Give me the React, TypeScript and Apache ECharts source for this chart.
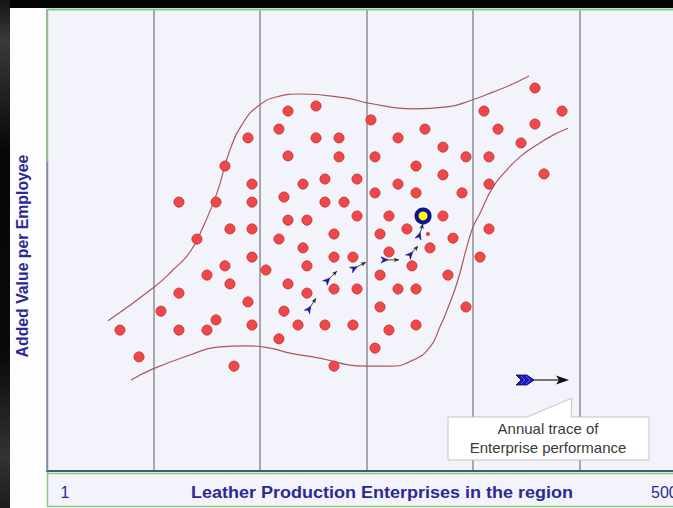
import React, { useEffect, useRef } from "react";
import * as echarts from "echarts";

// Scatter of enterprises: [position along enterprise axis (grid units, 100 per column), added value (0-100)]
const enterprises: [number, number][] = [
  [68.5, 30.5], [86.4, 24.7], [107.0, 34.6], [123.9, 38.5], [123.9, 30.5], [123.9, 58.2],
  [140.8, 50.2], [150.2, 42.4], [150.2, 30.5], [158.7, 32.7], [158.7, 58.2], [167.1, 44.4],
  [167.1, 66.0], [171.8, 52.4], [171.8, 40.5], [175.6, 22.7], [188.7, 72.1], [188.7, 36.6],
  [192.5, 62.1], [192.5, 58.2], [192.5, 52.4], [192.5, 46.3], [192.5, 31.6], [205.6, 43.5],
  [217.8, 74.0], [217.8, 50.2], [217.8, 28.6], [222.5, 59.3], [222.5, 34.6], [226.3, 77.9],
  [226.3, 68.2], [226.3, 54.3], [226.3, 40.5], [252.6, 79.0], [304.2, 76.0], [354.9, 74.0],
  [252.6, 72.1], [274.2, 72.1], [329.6, 72.1], [371.8, 70.1], [274.2, 68.0], [308.0, 68.0],
  [393.4, 68.0], [346.5, 66.0], [371.8, 64.1], [261.0, 63.2], [291.1, 63.2], [240.4, 62.1],
  [329.6, 62.1], [261.0, 58.2], [278.9, 58.2], [308.0, 60.2], [346.5, 60.2], [389.7, 60.2],
  [244.1, 54.3], [291.1, 55.2], [321.1, 55.2], [371.8, 55.2], [338.0, 52.4], [381.2, 50.4],
  [269.5, 51.3], [312.7, 51.3], [240.4, 48.3], [359.6, 48.3], [321.1, 47.4], [269.5, 46.3],
  [287.3, 46.3], [244.1, 44.4], [342.7, 44.4], [312.7, 42.4], [376.5, 42.4], [269.5, 39.4],
  [291.1, 39.4], [329.6, 39.4], [346.5, 39.4], [244.1, 38.5], [312.7, 35.5], [393.4, 35.5],
  [235.7, 31.6], [261.0, 31.6], [287.3, 31.6], [346.5, 31.6], [321.1, 30.5], [308.0, 26.6],
  [269.5, 22.7], [458.2, 82.9], [410.3, 77.9], [483.6, 77.9], [423.5, 74.0], [458.2, 75.1],
  [445.1, 71.0], [415.0, 68.0], [466.7, 64.3], [415.0, 62.1], [415.0, 52.4], [406.6, 46.3],
];

const smallPoint: [number, number][] = [[357.7, 51.3]];
const currentEnterprise: [number, number][] = [[353.1, 55.2]];

// Annual trace segments: [x from, y from, x to, y to]
const annualTrace: [number, number, number, number][] = [
  [244.1, 34.4, 252.6, 37.4],
  [261.0, 40.7, 272.3, 43.3],
  [285.4, 43.5, 299.5, 45.2],
  [313.6, 45.7, 330.5, 45.7],
  [339.0, 46.3, 348.4, 48.7],
  [348.4, 50.2, 353.1, 53.5],
];

const upperBound: [number, number][] = [
  [57.3, 32.5], [99.5, 39.6], [118.3, 43.5], [134.3, 47.4], [146.5, 52.8], [159.6, 60.2],
  [171.8, 69.5], [184.0, 75.3], [197.2, 78.8], [216.0, 81.0], [237.6, 81.6], [281.7, 80.7],
  [300.5, 79.7], [343.7, 78.4], [375.6, 78.8], [399.1, 80.3], [418.8, 82.0], [434.7, 83.5],
  [452.6, 85.5],
];

const lowerBound: [number, number][] = [
  [78.9, 19.7], [99.5, 22.1], [134.3, 25.1], [159.6, 26.8], [187.8, 27.1], [209.4, 26.6],
  [228.2, 25.5], [249.8, 24.7], [300.5, 22.7], [322.1, 22.7], [343.7, 24.0], [359.6, 26.8],
  [369.0, 31.2], [375.6, 34.8], [385.0, 40.7], [393.4, 47.8], [400.0, 52.8], [406.6, 55.8],
  [418.8, 61.5], [431.9, 65.2], [444.1, 68.0], [460.1, 70.6], [475.1, 72.7], [489.2, 74.2],
];

const xAxisTitle = "Leather Production Enterprises in the region";
const yAxisTitle = "Added Value per Employee";
const xStartLabel = "1";
const xEndLabel = "500";
const noteLines = ["Annual trace of", "Enterprise performance"];

const FONT = 'Arial, "Liberation Sans", Helvetica, sans-serif';
const NAVY = "#2A2A94";
const GREEN = "#86C986";

function renderTrace(params: any, api: any) {
  const p1 = api.coord([api.value(0), api.value(1)]);
  const p2 = api.coord([api.value(2), api.value(3)]);
  const dx = p2[0] - p1[0];
  const dy = p2[1] - p1[1];
  const len = Math.sqrt(dx * dx + dy * dy) || 1;
  const ux = dx / len;
  const uy = dy / len;
  const nx = -uy;
  const ny = ux;
  const pt = (base: number[], a: number, b: number) => [base[0] + ux * a + nx * b, base[1] + uy * a + ny * b];
  const tail = [pt(p1, 7, 0), pt(p1, 0, 3.2), pt(p1, 2.2, 0), pt(p1, 0, -3.2)];
  const head = [pt(p2, 0, 0), pt(p2, -5, 2.2), pt(p2, -3.8, 0), pt(p2, -5, -2.2)];
  const ls = pt(p1, 5, 0);
  return {
    type: "group",
    children: [
      { type: "line", shape: { x1: ls[0], y1: ls[1], x2: p2[0], y2: p2[1] }, style: { stroke: "#4A4A4A", lineWidth: 1 } },
      { type: "polygon", shape: { points: head }, style: { fill: "#222222" } },
      { type: "polygon", shape: { points: tail }, style: { fill: "#1818A8", stroke: "#0C0C70", lineWidth: 0.5 } },
    ],
  };
}

export default function App() {
  const ref = useRef<HTMLDivElement>(null);
  useEffect(() => {
    if (!ref.current) return;
    const chart = echarts.init(ref.current, undefined, { renderer: "svg" });
    const bg = (o: any) => ({ silent: true, z: -10, ...o });
    chart.setOption({
      animation: false,
      backgroundColor: "#050505",
      grid: { left: 47, top: 9, right: 0, bottom: 37, containLabel: false },
      xAxis: {
        type: "value",
        min: 0,
        max: 587.8,
        interval: 100,
        axisLabel: { show: false },
        axisTick: { show: false },
        axisLine: { show: true, onZero: false, lineStyle: { color: "#3E5A76", width: 2 } },
        splitLine: { show: true, showMaxLine: false, lineStyle: { color: "#8E8E94", width: 1.5 } },
      },
      yAxis: { type: "value", min: 0, max: 100, show: false },
      graphic: [
        bg({
          type: "rect",
          shape: { x: 0, y: 0, width: 10, height: 508 },
          style: {
            fill: new echarts.graphic.LinearGradient(0, 0, 0, 1, [
              { offset: 0, color: "#151515" },
              { offset: 0.08, color: "#3A3A3A" },
              { offset: 0.3, color: "#060606" },
              { offset: 0.7, color: "#0A0A0A" },
              { offset: 0.9, color: "#333333" },
              { offset: 1, color: "#1C1C1C" },
            ]),
          },
        }),
        bg({ type: "rect", shape: { x: 10, y: 8, width: 663, height: 500 }, style: { fill: "#FDFDFD" } }),
        bg({ type: "rect", shape: { x: 47, y: 9, width: 626, height: 498 }, style: { fill: "#F3F3FC" } }),
        { type: "line", silent: true, z: 5, shape: { x1: 47, y1: 9.5, x2: 673, y2: 9.5 }, style: { stroke: GREEN, lineWidth: 2 } },
        { type: "line", silent: true, z: 5, shape: { x1: 47.5, y1: 9, x2: 47.5, y2: 162 }, style: { stroke: GREEN, lineWidth: 1.5 } },
        { type: "line", silent: true, z: 5, shape: { x1: 47.5, y1: 162, x2: 47.5, y2: 471 }, style: { stroke: "#7E8CB8", lineWidth: 1.5 } },
        { type: "line", silent: true, z: 5, shape: { x1: 47.5, y1: 472, x2: 47.5, y2: 507 }, style: { stroke: GREEN, lineWidth: 1.5 } },
        { type: "line", silent: true, z: 5, shape: { x1: 47, y1: 473.5, x2: 673, y2: 473.5 }, style: { stroke: GREEN, lineWidth: 1.5 } },
        { type: "line", silent: true, z: 5, shape: { x1: 47, y1: 506.5, x2: 673, y2: 506.5 }, style: { stroke: GREEN, lineWidth: 1.5 } },
        {
          type: "text",
          silent: true,
          x: 22,
          y: 256,
          rotation: Math.PI / 2,
          style: { text: yAxisTitle, fill: NAVY, font: `bold 15.8px ${FONT}`, align: "center", verticalAlign: "middle" },
        },
        {
          type: "text",
          silent: true,
          x: 382,
          y: 492,
          scaleX: 1.06,
          style: { text: xAxisTitle, fill: NAVY, font: `bold 17px ${FONT}`, align: "center", verticalAlign: "middle" },
        },
        {
          type: "text",
          silent: true,
          x: 65,
          y: 492,
          style: { text: xStartLabel, fill: NAVY, font: `16px ${FONT}`, align: "center", verticalAlign: "middle" },
        },
        {
          type: "text",
          silent: true,
          x: 651,
          y: 492,
          style: { text: xEndLabel, fill: NAVY, font: `16px ${FONT}`, align: "left", verticalAlign: "middle" },
        },
        {
          type: "polygon",
          silent: true,
          z: 6,
          shape: { points: [[448, 417], [527, 417], [572, 398], [571, 417], [649, 417], [649, 460], [448, 460]] },
          style: { fill: "#FFFFFF", stroke: "#C4C4C4", lineWidth: 1 },
        },
        {
          type: "text",
          silent: true,
          z: 7,
          x: 548,
          y: 428,
          style: { text: noteLines[0], fill: "#3A3A3A", font: `15px ${FONT}`, align: "center", verticalAlign: "middle" },
        },
        {
          type: "text",
          silent: true,
          z: 7,
          x: 548,
          y: 447,
          style: { text: noteLines[1], fill: "#3A3A3A", font: `15px ${FONT}`, align: "center", verticalAlign: "middle" },
        },
        { type: "line", silent: true, z: 6, shape: { x1: 530, y1: 380, x2: 562, y2: 380 }, style: { stroke: "#222", lineWidth: 1.2 } },
        {
          type: "polygon",
          silent: true,
          z: 6,
          shape: { points: [[569, 380], [556, 375.5], [559, 380], [556, 384.5]] },
          style: { fill: "#111" },
        },
        {
          type: "polygon",
          silent: true,
          z: 6,
          shape: { points: [[516, 375], [527, 375], [534, 380], [527, 385], [516, 385], [521, 380]] },
          style: { fill: "#1A1AB4", stroke: "#0A0A70", lineWidth: 0.8 },
        },
        {
          type: "polyline",
          silent: true,
          z: 7,
          shape: { points: [[521, 376], [525, 380], [521, 384]] },
          style: { stroke: "#5A5AF0", lineWidth: 1, fill: null },
        },
        {
          type: "polyline",
          silent: true,
          z: 7,
          shape: { points: [[526, 376], [530, 380], [526, 384]] },
          style: { stroke: "#5A5AF0", lineWidth: 1, fill: null },
        },
      ],
      series: [
        {
          type: "line",
          data: upperBound,
          smooth: 0.5,
          showSymbol: false,
          silent: true,
          lineStyle: { color: "#A8585C", width: 1.2 },
          z: 1,
        },
        {
          type: "line",
          data: lowerBound,
          smooth: 0.5,
          showSymbol: false,
          silent: true,
          lineStyle: { color: "#A8585C", width: 1.2 },
          z: 1,
        },
        {
          type: "scatter",
          data: enterprises,
          symbol: "circle",
          symbolSize: 10,
          itemStyle: { color: "#F04848", borderColor: "#C63434", borderWidth: 1, opacity: 1 },
          z: 3,
        },
        {
          type: "scatter",
          data: smallPoint,
          symbolSize: 4,
          itemStyle: { color: "#E04040", opacity: 1 },
          z: 3,
        },
        {
          type: "custom",
          data: annualTrace,
          encode: { x: [0, 2], y: [1, 3] },
          renderItem: renderTrace,
          z: 4,
        },
        {
          type: "scatter",
          data: currentEnterprise,
          symbolSize: 13,
          itemStyle: { color: "#FFFF10", borderColor: "#12128C", borderWidth: 4, opacity: 1 },
          z: 5,
        },
      ],
    });
    return () => chart.dispose();
  }, []);
  return <div ref={ref} style={{ position: "fixed", left: 0, top: 0, width: 673, height: 508 }} />;
}
